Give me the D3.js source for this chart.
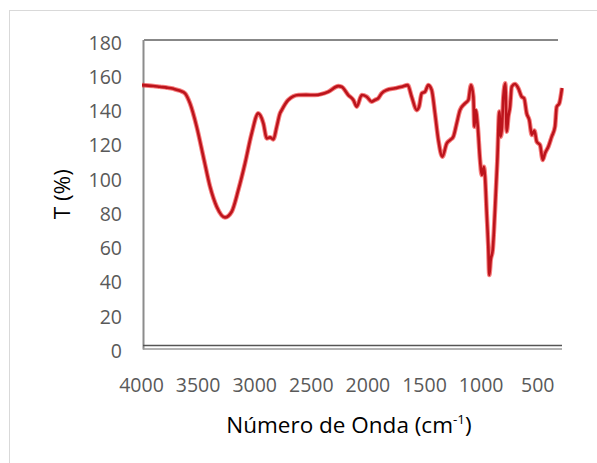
<!DOCTYPE html>
<html>
<head>
<meta charset="utf-8">
<script src="https://cdn.jsdelivr.net/npm/d3@7"></script>
<style>
  body { margin: 0; background: #fff; }
  svg { display: block; }
  .tick-label { font-family: 'Open Sans', sans-serif; font-size: 19.5px; fill: #595959; }
  .axis-title { font-family: 'Open Sans', sans-serif; font-size: 22.5px; fill: #000; }
</style>
</head>
<body>
<svg id="chart" width="597" height="463"></svg>
<script>
// FTIR spectrum
const wavenumber = [
  4000, 3900, 3841, 3780, 3720, 3664, 3620, 3576, 3517, 3458,
  3399, 3340, 3267, 3208, 3149, 3090, 3031, 2973, 2928, 2898,
  2869, 2840, 2810, 2781, 2766, 2708, 2619, 2550, 2472, 2354,
  2266, 2236, 2178, 2133, 2103, 2059, 2015, 1971, 1942, 1913,
  1883, 1838, 1765, 1706, 1653, 1618, 1573, 1553, 1529, 1500,
  1471, 1441, 1412, 1382, 1347, 1308, 1279, 1250, 1220, 1191,
  1147, 1117, 1094, 1073, 1064, 1052, 1034, 1014, 999, 979,
  970, 955, 941, 932, 920, 902, 882, 861, 844, 831,
  820, 808, 791, 778, 764, 749, 734, 705, 676, 646,
  625, 602, 579, 557, 534, 513, 484, 460, 440, 411,
  381, 352, 337, 314, 290
];
const transmittance = [
  153.7, 153.2, 152.7, 152.2, 151.5, 150.4, 148.9, 143, 129.4, 111.9,
  94.4, 82.7, 76.5, 79.8, 92.5, 108, 125.5, 137.2, 131.4, 122.6,
  123.2, 122, 129.4, 137.2, 139.1, 145, 147.9, 148, 147.9, 149.8,
  153.1, 152.7, 147.9, 145, 141.1, 147.9, 146.9, 144, 145, 146,
  148.9, 150.8, 151.8, 152.7, 153.7, 146.9, 139.1, 141, 148.9, 149.8,
  153.7, 150.8, 137.2, 121.6, 111.9, 119.7, 121.6, 123.6, 131.4, 139.1,
  143, 145, 153.7, 146.9, 129.4, 139.1, 129.4, 110, 101.2, 106,
  100.2, 78.9, 59.4, 42.9, 51.6, 57.5, 80.8, 110, 138.2, 123.6,
  129.4, 146.9, 154.7, 126.5, 135.2, 141, 152.7, 154.3, 151.8, 146.9,
  146, 137.2, 133.3, 124.6, 127.1, 120.7, 118.7, 110, 113.9, 117.7,
  123.6, 129.4, 141, 143, 152
];
const xTicks = [4000, 3500, 3000, 2500, 2000, 1500, 1000, 500];
const yTicks = [0, 20, 40, 60, 80, 100, 120, 140, 160, 180];

const svg = d3.select('#chart');
const plot = { left: 142, right: 562, top: 40, bottom: 348.5 };

const x = d3.scaleLinear().domain([4000, 290]).range([plot.left, plot.right]);
const y = d3.scaleLinear().domain([0, 180]).range([plot.bottom, plot.top]);

// outer chart border (light gray, runs off the picture)
svg.append('rect')
  .attr('x', 9.5).attr('y', 10.5)
  .attr('width', 620).attr('height', 480)
  .attr('fill', 'none').attr('stroke', '#d9d9d9');

// frame: black top line, gray left axis, doubled bottom axis
svg.append('line')
  .attr('x1', plot.left + 2).attr('x2', plot.right - 4)
  .attr('y1', y(180)).attr('y2', y(180))
  .attr('stroke', '#111').attr('stroke-width', 1);
svg.append('line')
  .attr('x1', plot.left + 1.5).attr('x2', plot.left + 1.5)
  .attr('y1', y(180)).attr('y2', y(0) + 1)
  .attr('stroke', '#8c8c8c').attr('stroke-width', 2);
svg.append('line')
  .attr('x1', plot.left + 1).attr('x2', plot.right)
  .attr('y1', y(0) - 3).attr('y2', y(0) - 3)
  .attr('stroke', '#555').attr('stroke-width', 1.3);
svg.append('line')
  .attr('x1', plot.left + 1).attr('x2', plot.right)
  .attr('y1', y(0) + 0.5).attr('y2', y(0) + 0.5)
  .attr('stroke', '#9a9a9a').attr('stroke-width', 1.3);

// axes: labels only, no ticks or domain lines
const yAxis = svg.append('g')
  .attr('transform', `translate(${plot.left - 20},2)`)
  .call(d3.axisLeft(y).tickValues(yTicks).tickSize(0).tickPadding(0));
yAxis.select('.domain').remove();
yAxis.selectAll('text').attr('class', 'tick-label').attr('font-family', null).attr('font-size', null)
  .attr('dy', '0.36em');

const xAxis = svg.append('g')
  .attr('transform', `translate(-1,${plot.bottom + 36})`)
  .call(d3.axisBottom(x).tickValues(xTicks).tickFormat(d3.format('d')).tickSize(0).tickPadding(0));
xAxis.select('.domain').remove();
xAxis.selectAll('text').attr('class', 'tick-label').attr('font-family', null).attr('font-size', null)
  .attr('dy', '0.36em');

// spectrum
svg.append('clipPath').attr('id', 'plotClip')
  .append('rect')
  .attr('x', plot.left).attr('y', plot.top)
  .attr('width', plot.right - plot.left + 2).attr('height', plot.bottom - plot.top);

const points = wavenumber.map((w, i) => [w, transmittance[i]]);
const line = d3.line()
  .x(d => x(d[0]))
  .y(d => y(d[1]))
  .curve(d3.curveMonotoneX);

const curve = svg.append('g').attr('clip-path', 'url(#plotClip)');
curve.append('path')
  .attr('d', line(points))
  .attr('fill', 'none')
  .attr('stroke', '#f02a2a')
  .attr('stroke-opacity', 0.6)
  .attr('stroke-width', 4.6)
  .attr('stroke-linejoin', 'round');
curve.append('path')
  .attr('d', line(points))
  .attr('fill', 'none')
  .attr('stroke', '#bc141c')
  .attr('stroke-width', 2.6)
  .attr('stroke-linejoin', 'round');

// axis titles
svg.append('text')
  .attr('class', 'axis-title')
  .attr('transform', `translate(70,${(y(180) + y(0)) / 2}) rotate(-90)`)
  .attr('text-anchor', 'middle')
  .text('T (%)');

const xTitle = svg.append('text')
  .attr('class', 'axis-title')
  .attr('x', (plot.left + plot.right) / 2 - 3)
  .attr('y', 433)
  .attr('text-anchor', 'middle');
xTitle.append('tspan').text('Número de Onda (cm');
xTitle.append('tspan').attr('dy', -9).attr('font-size', 13.5).text('-1');
xTitle.append('tspan').attr('dy', 9).text(')');
</script>
</body>
</html>
